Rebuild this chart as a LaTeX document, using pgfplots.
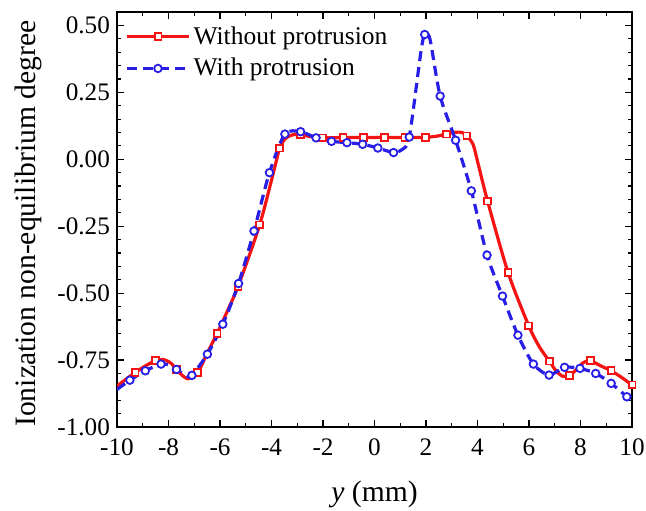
\documentclass[border=0pt]{standalone}
\usepackage{pgfplots}
\pgfplotsset{compat=1.18}
\usepackage{fontspec}
\setmainfont{Liberation Serif}
\definecolor{cred}{RGB}{245,20,20}
\definecolor{cblue}{RGB}{40,30,230}
\begin{document}
\begin{tikzpicture}
\begin{axis}[
  scale only axis, width=257.5pt, height=207.5pt,
  xmin=-10, xmax=10, ymin=-1, ymax=0.55,
  xtick={-10,-8,...,10}, ytick={-1,-0.75,...,0.5},
  minor x tick num=1, minor y tick num=4,
  tick align=inside, major tick length=3.5pt, minor tick length=2pt,
  every tick/.style={black, line width=0.6pt},
  axis line style={line width=0.8pt},
  /pgf/number format/assume math mode=true,
  yticklabel style={/pgf/number format/fixed, /pgf/number format/fixed zerofill, /pgf/number format/precision=2},
  xticklabel style={yshift=-2.5pt},
  ticklabel style={font=\fontsize{12.6}{14}\selectfont},
  xlabel={\textit{y} (mm)}, ylabel={Ionization non-equilibrium degree},
  label style={font=\fontsize{14.8}{17}\selectfont},
  xlabel style={at={(axis description cs:0.5,-0.162)}, anchor=center},
  ylabel style={at={(axis description cs:-0.172,0.49)}, anchor=center},
  legend style={at={(0,1)}, anchor=north west, draw=none, fill=none,
    font=\fontsize{12.75}{14}\selectfont, row sep=1.5pt,
    nodes={inner xsep=1.5pt}, xshift=1pt, yshift=-3pt},
  legend cell align=left,
  legend image code/.code={\draw[#1] (0pt,0pt) -- (31pt,0pt); \draw[#1, solid] plot coordinates {(15.5pt,0pt)};},
]
% red line (without protrusion)
\addplot[cred, line width=1.6pt, smooth, tension=0.45, forget plot] coordinates {
(-10.0,-0.847) (-9.70,-0.825) (-9.30,-0.797) (-8.90,-0.772) (-8.50,-0.752) (-8.20,-0.748)
(-7.90,-0.762) (-7.60,-0.795) (-7.25,-0.820) (-6.87,-0.797) (-6.50,-0.725) (-6.11,-0.650)
(-5.87,-0.600) (-5.30,-0.475) (-4.46,-0.245) (-3.90,-0.040) (-3.68,0.042) (-3.45,0.078)
(-3.15,0.092) (-2.87,0.092) (-2.45,0.084) (-2.02,0.080) (-1.22,0.081) (-0.42,0.081)
(0.38,0.082) (1.18,0.081) (1.97,0.082) (2.40,0.086) (2.79,0.094) (3.15,0.101) (3.40,0.100)
(3.59,0.087) (3.83,0.055) (4.02,-0.015) (4.39,-0.156) (5.19,-0.424) (5.99,-0.622)
(6.40,-0.700) (6.79,-0.754) (7.05,-0.790) (7.30,-0.810) (7.57,-0.807) (7.85,-0.785)
(8.10,-0.760) (8.38,-0.752) (8.75,-0.770) (9.19,-0.790) (9.60,-0.815) (10.0,-0.843)
};
\addplot[only marks, mark=square*, mark size=1.7pt, mark options={draw=cred, fill=white, line width=0.9pt}, forget plot] coordinates {
(-9.30,-0.797) (-8.50,-0.752) (-7.69,-0.785) (-6.87,-0.797) (-6.11,-0.650) (-5.30,-0.475)
(-4.46,-0.245) (-3.68,0.042) (-2.87,0.092) (-2.02,0.080) (-1.22,0.081) (-0.42,0.081)
(0.38,0.082) (1.18,0.081) (1.97,0.082) (2.79,0.094) (3.59,0.087) (4.39,-0.156)
(5.19,-0.424) (5.99,-0.622) (6.79,-0.754) (7.57,-0.807) (8.38,-0.752) (9.19,-0.790) (10.0,-0.843)
};
\addlegendimage{cred, line width=1.6pt, mark=square*, mark size=1.7pt, mark options={draw=cred, fill=white, line width=0.9pt}}
\addlegendentry{Without protrusion}
% blue line (with protrusion)
\addplot[cblue, line width=1.6pt, dash pattern=on 5pt off 3pt, smooth, tension=0.45, forget plot] coordinates {
(-10.0,-0.860) (-9.50,-0.825) (-8.90,-0.790) (-8.29,-0.765) (-7.95,-0.770) (-7.69,-0.785)
(-7.25,-0.812) (-7.09,-0.807) (-6.49,-0.728) (-5.89,-0.616) (-5.28,-0.464) (-4.68,-0.268)
(-4.08,-0.050) (-3.48,0.094) (-2.87,0.103) (-2.27,0.080) (-1.67,0.067) (-1.07,0.062)
(-0.46,0.056) (0.13,0.042) (0.74,0.025) (1.05,0.035) (1.35,0.083) (1.80,0.400)
(1.95,0.466) (2.15,0.450) (2.55,0.236) (3.15,0.071) (3.76,-0.118) (4.37,-0.358)
(4.97,-0.511) (5.57,-0.657) (6.17,-0.765) (6.78,-0.806) (7.38,-0.777) (7.98,-0.781)
(8.59,-0.800) (9.19,-0.837) (9.80,-0.887) (10.0,-0.905)
};
\addplot[only marks, mark=*, mark size=1.9pt, mark options={draw=cblue, fill=white, line width=0.9pt}, forget plot] coordinates {
(-9.50,-0.825) (-8.90,-0.790) (-8.29,-0.765) (-7.69,-0.785) (-7.09,-0.807) (-6.49,-0.728)
(-5.89,-0.616) (-5.28,-0.464) (-4.68,-0.268) (-4.08,-0.050) (-3.48,0.094) (-2.87,0.103)
(-2.27,0.080) (-1.67,0.067) (-1.07,0.062) (-0.46,0.056) (0.13,0.042) (0.74,0.025)
(1.35,0.083) (1.95,0.466) (2.55,0.236) (3.15,0.071) (3.76,-0.118) (4.37,-0.358)
(4.97,-0.511) (5.57,-0.657) (6.17,-0.765) (6.78,-0.806) (7.38,-0.777) (7.98,-0.781)
(8.59,-0.800) (9.19,-0.837) (9.80,-0.887)
};
\addlegendimage{cblue, line width=1.6pt, dash pattern=on 5pt off 3pt, mark=*, mark size=1.9pt, mark options={draw=cblue, fill=white, line width=0.9pt, solid}}
\addlegendentry{With protrusion}
\end{axis}
\pgfresetboundingbox
\path[use as bounding box] (-58.5pt,-41.5pt) rectangle (264.5pt,213.5pt);
\end{tikzpicture}
\end{document}
